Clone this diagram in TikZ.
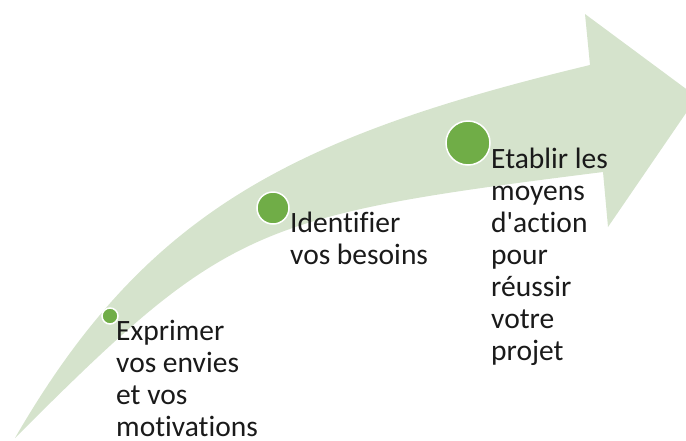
\documentclass[tikz,border=0pt]{standalone}
\usepackage{fontspec}
\setmainfont{Carlito}[Ligatures={NoCommon,TeXOff}]
\definecolor{arrowgreen}{HTML}{D5E3CC}
\definecolor{dotgreen}{HTML}{70AD47}
\definecolor{txt}{HTML}{1A1A1A}
\begin{document}
\begin{tikzpicture}[x=1pt,y=-1pt,
  dot/.style={circle,fill=dotgreen,draw=white,line width=1.5pt,inner sep=0pt,minimum size=#1},
  lbl/.style={anchor=base west,align=left,inner sep=0pt,text=txt,font={\fontsize{29.5}{32}\selectfont}}]
\useasboundingbox (0,0) rectangle (686,440);
\clip (0,0) rectangle (686,440);
% curved arrow
\fill[arrowgreen] (15,438) .. controls (145,213) and (290,137) .. (590,65)
  -- (585,14) -- (697,97) -- (608,227) -- (603,172)
  .. controls (253,216) and (227,226) .. (15,438) -- cycle;
% dots
\node[dot=16pt] (d1) at (110,316) {};
\node[dot=32pt] (d2) at (273,208) {};
\node[dot=44pt] (d3) at (468,143) {};
% labels (anchored at the baseline of the last line)
\node[lbl] (t1) at (116,436.5) {Exprimer\\vos envies\\et vos\\motivations};
\node[lbl] (t2) at (290,264) {Identifier\\vos besoins};
\node[lbl] (t3) at (491,360) {Etablir les\\moyens\\d'action\\pour\\réussir\\votre\\projet};
\end{tikzpicture}
\end{document}
